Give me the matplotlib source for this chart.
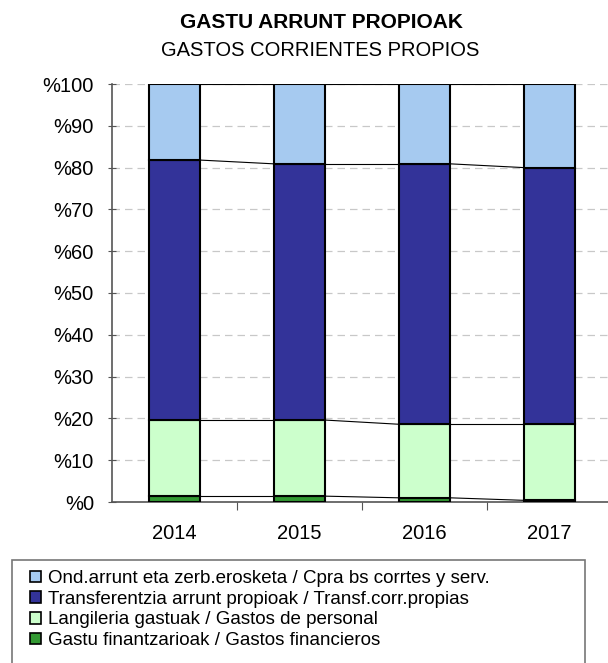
import numpy as np
import matplotlib
matplotlib.use('Agg')
import matplotlib.pyplot as plt
from matplotlib.patches import Rectangle

plt.rcParams['font.family'] = ['Liberation Sans', 'DejaVu Sans']

# Data (percent shares)
years = ['2014', '2015', '2016', '2017']
financieros = [1.4, 1.4, 1.0, 0.4]
personal = [18.2, 18.2, 17.6, 18.2]
transferencias = [62.2, 61.3, 62.3, 61.4]
compras = [18.2, 19.1, 19.1, 20.0]

labels = ['Gastu finantzarioak / Gastos financieros',
          'Langileria gastuak / Gastos de personal',
          'Transferentzia arrunt propioak / Transf.corr.propias',
          'Ond.arrunt eta zerb.erosketa / Cpra bs corrtes y serv.']
colors = ['#339933', '#CCFFCC', '#333399', '#A6CAF0']

W, H = 608, 663
fig = plt.figure(figsize=(W / 100, H / 100), dpi=100)
ax = fig.add_axes([112 / W, 1 - 502 / H, 500 / W, 418 / H])

x = np.arange(len(years))
width = 0.41
series = [financieros, personal, transferencias, compras]
bottom = np.zeros(len(years))
handles = []
for vals, col, lab in zip(series, colors, labels):
    vals = np.array(vals)
    b = ax.bar(x, vals, width, bottom=bottom, color=col, edgecolor='black',
               linewidth=1.5, label=lab, zorder=3)
    handles.append(b)
    bottom = bottom + vals
    # series lines between bars
    for i in range(len(years) - 1):
        ax.plot([x[i] + width / 2, x[i + 1] - width / 2], [bottom[i], bottom[i + 1]],
                color='black', linewidth=0.8, zorder=2)

ax.set_xlim(-0.5, len(years) - 0.5)
ax.set_ylim(0, 100)
ax.set_yticks(np.arange(0, 101, 10))
ax.set_yticklabels(['%' + str(v) for v in range(0, 101, 10)], fontsize=14.5)
ax.set_xticks(x + 0.5, minor=False)
ax.set_xticklabels([])
ax.set_xticks(x, minor=True)
ax.set_xticklabels(years, minor=True, fontsize=14.5)
ax.tick_params(axis='x', which='minor', length=0, pad=16)
ax.tick_params(axis='x', which='major', length=6, color='#555555')
ax.tick_params(axis='y', length=6, direction='inout', color='#555555', pad=10)
ax.yaxis.grid(True, linestyle=(0, (6, 4)), color='#c8c8c8', linewidth=0.9, zorder=0)
ax.set_axisbelow(True)
for s in ['top', 'right']:
    ax.spines[s].set_visible(False)
for s in ['left', 'bottom']:
    ax.spines[s].set_color('#555555')
    ax.spines[s].set_linewidth(1.2)

fig.text(321 / W, 1 - 23 / H, 'GASTU ARRUNT PROPIOAK', ha='center', va='center',
         fontsize=15, fontweight='bold')
fig.text(320 / W, 1 - 50 / H, 'GASTOS CORRIENTES PROPIOS', ha='center', va='center',
         fontsize=14.5)

# legend box (its bottom runs off the image, as in the original)
fig.patches.append(Rectangle((12 / W, -0.05), 573 / W, (H - 560) / H + 0.05,
                             transform=fig.transFigure, fill=False,
                             edgecolor='#777777', linewidth=1.2))
leg = fig.legend(handles[::-1], labels[::-1], loc='upper left',
                 bbox_to_anchor=(30 / W, 1 - 570 / H),
                 fontsize=13.5, frameon=False,
                 handlelength=0.58, handleheight=0.58, handletextpad=0.4,
                 labelspacing=0.2, borderpad=0, borderaxespad=0)
for h in leg.legend_handles:
    h.set_linewidth(1.2)

fig.savefig('out.png', dpi=100)
